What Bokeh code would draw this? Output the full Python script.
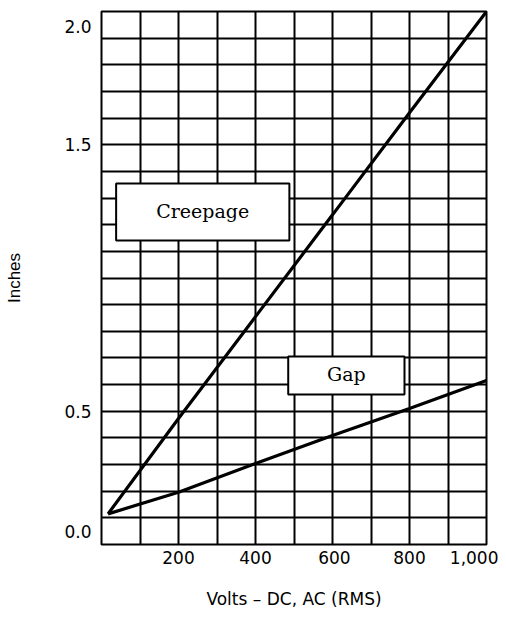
from bokeh.plotting import figure
from bokeh.models import FixedTicker, SingleIntervalTicker, Range1d, ColumnDataSource
from bokeh.core.properties import value
from bokeh.embed import file_html
from bokeh.resources import INLINE

# Data
volts = [17, 200, 400, 600, 800, 1000]
creepage = [0.115, 0.473, 0.855, 1.237, 1.62, 2.0]
gap = [0.115, 0.196, 0.304, 0.409, 0.51, 0.615]

# tick labels (positions where the labels sit in the original)
x_tick_pos = [200, 400, 605, 800, 984]
x_tick_labels = ["200", "400", "600", "800", "1,000"]
y_tick_pos = [0.05, 0.5, 1.5, 1.945]
y_tick_labels = ["0.0", "0.5", "1.5", "2.0"]

# annotation boxes: label, x0, x1, y0, y1, text x, text y
box_labels = ["Creepage", "Gap"]
box_x0 = [38, 485]
box_x1 = [488, 787]
box_y0 = [1.141, 0.563]
box_y1 = [1.355, 0.705]
box_tx = [263, 636]
box_ty = [1.252, 0.638]

FONT = "DejaVu Sans"

p = figure(width=498, height=616, output_backend="svg", toolbar_location=None,
           x_range=Range1d(0, 1000), y_range=Range1d(0, 2.0),
           min_border_left=101, min_border_right=12, min_border_top=11, min_border_bottom=72)

p.background_fill_color = "white"
p.border_fill_color = "white"
p.outline_line_color = "black"
p.outline_line_width = 2

p.xgrid.ticker = SingleIntervalTicker(interval=100)
p.ygrid.ticker = SingleIntervalTicker(interval=0.1)
for g in (p.xgrid, p.ygrid):
    g.grid_line_color = "black"
    g.grid_line_width = 2
    g.grid_line_alpha = 1.0

p.xaxis.ticker = FixedTicker(ticks=x_tick_pos)
p.xaxis.major_label_overrides = {t: l for t, l in zip(x_tick_pos, x_tick_labels)}
p.yaxis.ticker = FixedTicker(ticks=y_tick_pos)
p.yaxis.major_label_overrides = {t: l for t, l in zip(y_tick_pos, y_tick_labels)}

for ax in (p.xaxis, p.yaxis):
    ax.axis_line_color = None
    ax.major_tick_line_color = None
    ax.minor_tick_line_color = None
    ax.major_tick_out = 0
    ax.major_tick_in = 0
    ax.major_label_text_font = FONT
    ax.major_label_text_font_size = "17px"
    ax.major_label_text_color = "black"
    ax.axis_label_text_font = FONT
    ax.axis_label_text_font_size = "17px"
    ax.axis_label_text_font_style = "normal"
    ax.axis_label_text_color = "black"

p.yaxis.axis_label_text_font = "Liberation Sans"
p.yaxis.axis_label_text_font_size = "17px"

p.xaxis.axis_label = "Volts \u2013 DC, AC (RMS)"
p.yaxis.axis_label = "Inches"
p.xaxis.major_label_standoff = 6
p.xaxis.axis_label_standoff = 22
p.yaxis.major_label_standoff = 10
p.yaxis.axis_label_standoff = 37

p.line(volts, creepage, line_color="black", line_width=3.2)
p.line(volts, gap, line_color="black", line_width=3.2)

src = ColumnDataSource(dict(label=box_labels, x0=box_x0, x1=box_x1, y0=box_y0, y1=box_y1,
                            tx=box_tx, ty=box_ty))
p.quad(left="x0", right="x1", bottom="y0", top="y1", source=src,
       fill_color="white", line_color="black", line_width=2)
p.text(x="tx", y="ty", text="label", source=src, text_align="center", text_baseline="middle",
       text_font=value("DejaVu Serif"), text_font_size="19px", text_color="black")

open("out.html", "w").write(file_html(p, INLINE))
